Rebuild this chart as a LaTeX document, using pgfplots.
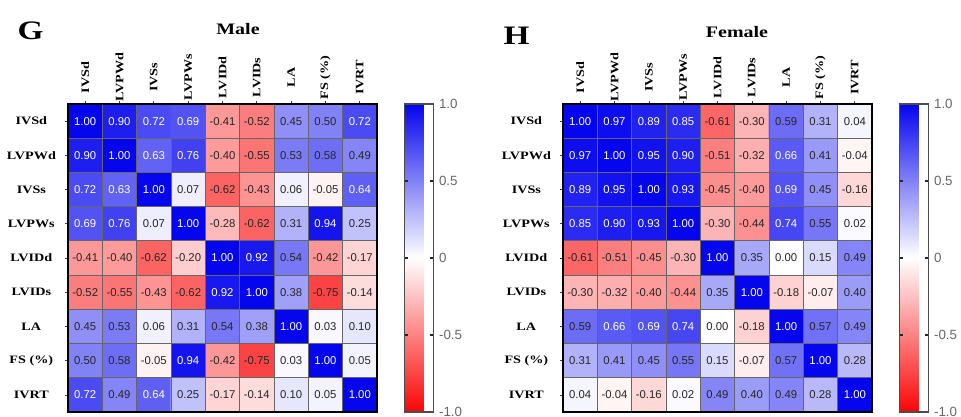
\documentclass[border=0pt]{standalone}
\usepackage{fontspec}
\setmainfont{Liberation Serif}
\setsansfont{Liberation Sans}
\usepackage{graphicx}
\usepackage{pgfplots}
\usepackage{pgfplotstable}
\pgfplotsset{compat=1.18}
\newcommand\sx[1]{\scalebox{1.25}[1]{#1}}

\pgfplotstableread{
x y v
0 0 1.00
1 0 0.90
2 0 0.72
3 0 0.69
4 0 -0.41
5 0 -0.52
6 0 0.45
7 0 0.50
8 0 0.72
0 1 0.90
1 1 1.00
2 1 0.63
3 1 0.76
4 1 -0.40
5 1 -0.55
6 1 0.53
7 1 0.58
8 1 0.49
0 2 0.72
1 2 0.63
2 2 1.00
3 2 0.07
4 2 -0.62
5 2 -0.43
6 2 0.06
7 2 -0.05
8 2 0.64
0 3 0.69
1 3 0.76
2 3 0.07
3 3 1.00
4 3 -0.28
5 3 -0.62
6 3 0.31
7 3 0.94
8 3 0.25
0 4 -0.41
1 4 -0.40
2 4 -0.62
3 4 -0.20
4 4 1.00
5 4 0.92
6 4 0.54
7 4 -0.42
8 4 -0.17
0 5 -0.52
1 5 -0.55
2 5 -0.43
3 5 -0.62
4 5 0.92
5 5 1.00
6 5 0.38
7 5 -0.75
8 5 -0.14
0 6 0.45
1 6 0.53
2 6 0.06
3 6 0.31
4 6 0.54
5 6 0.38
6 6 1.00
7 6 0.03
8 6 0.10
0 7 0.50
1 7 0.58
2 7 -0.05
3 7 0.94
4 7 -0.42
5 7 -0.75
6 7 0.03
7 7 1.00
8 7 0.05
0 8 0.72
1 8 0.49
2 8 0.64
3 8 0.25
4 8 -0.17
5 8 -0.14
6 8 0.10
7 8 0.05
8 8 1.00
}\male

\pgfplotstableread{
x y v
0 0 1.00
1 0 0.97
2 0 0.89
3 0 0.85
4 0 -0.61
5 0 -0.30
6 0 0.59
7 0 0.31
8 0 0.04
0 1 0.97
1 1 1.00
2 1 0.95
3 1 0.90
4 1 -0.51
5 1 -0.32
6 1 0.66
7 1 0.41
8 1 -0.04
0 2 0.89
1 2 0.95
2 2 1.00
3 2 0.93
4 2 -0.45
5 2 -0.40
6 2 0.69
7 2 0.45
8 2 -0.16
0 3 0.85
1 3 0.90
2 3 0.93
3 3 1.00
4 3 -0.30
5 3 -0.44
6 3 0.74
7 3 0.55
8 3 0.02
0 4 -0.61
1 4 -0.51
2 4 -0.45
3 4 -0.30
4 4 1.00
5 4 0.35
6 4 0.00
7 4 0.15
8 4 0.49
0 5 -0.30
1 5 -0.32
2 5 -0.40
3 5 -0.44
4 5 0.35
5 5 1.00
6 5 -0.18
7 5 -0.07
8 5 0.40
0 6 0.59
1 6 0.66
2 6 0.69
3 6 0.74
4 6 0.00
5 6 -0.18
6 6 1.00
7 6 0.57
8 6 0.49
0 7 0.31
1 7 0.41
2 7 0.45
3 7 0.55
4 7 0.15
5 7 -0.07
6 7 0.57
7 7 1.00
8 7 0.28
0 8 0.04
1 8 -0.04
2 8 -0.16
3 8 0.02
4 8 0.49
5 8 0.40
6 8 0.49
7 8 0.28
8 8 1.00
}\female

\pgfplotsset{
  corr/.style={
    scale only axis, width=231.75pt, height=231pt,
    xmin=-0.5, xmax=8.5, ymin=-0.5, ymax=8.5, y dir=reverse,
    colormap={rwb}{rgb255(0cm)=(250,5,5); rgb255(1cm)=(255,255,255); rgb255(2cm)=(5,5,238)},
    point meta min=-1, point meta max=1,
    xtick={0,...,8}, ytick={0,...,8},
    xticklabels={\sx{IVSd},\sx{LVPWd},\sx{IVSs},\sx{LVPWs},\sx{LVIDd},\sx{LVIDs},\sx{LA},\sx{FS (\%)},\sx{IVRT}},
    yticklabels={\sx{IVSd},\sx{LVPWd},\sx{IVSs},\sx{LVPWs},\sx{LVIDd},\sx{LVIDs},\sx{LA},\sx{FS (\%)},\sx{IVRT}},
    xtick pos=upper, xticklabel pos=upper, ytick pos=left,
    xticklabel style={font=\bfseries\fontsize{8.5}{9}\selectfont, yshift=18pt, rotate=90, anchor=center},
    yticklabel style={font=\bfseries\fontsize{8.5}{9}\selectfont, xshift=-25.5pt, anchor=center},
    tick align=outside, major tick length=2pt, tick style={black!75, line width=0.5pt},
    minor xtick={-0.5,0.5,...,8.5}, minor ytick={-0.5,0.5,...,8.5},
    xminorgrids=true, yminorgrids=true, minor tick length=0pt,
    minor grid style={black!60, line width=0.6pt},
    axis on top,
    axis line style={black, line width=1pt},
    colorbar,
    every node near coord/.append style={font=\sffamily\fontsize{8.5}{9}\selectfont, text=black!85, anchor=center, inner sep=0pt},
  },
  cbar/.style={
    colorbar style={
      at={(parent axis.north east)}, anchor=north west, xshift=#1, width=21.5pt,
      ytick={-1,-0.5,0,0.5,1}, yticklabels={-1.0,-0.5,0,0.5,1.0},
      ytick pos=both, yticklabel pos=right,
      yticklabel style={font=\sffamily\fontsize{10}{11}\selectfont, text=black!60, xshift=1pt},
      axis line style={black!70, line width=0.8pt},
      tick align=inside, major tick length=2.5pt, tick style={black!85, line width=0.8pt},
    },
  },
}

\begin{document}
\begin{tikzpicture}
\path[use as bounding box] (0,0) rectangle (720.75pt,-312.75pt);

\begin{axis}[corr, cbar=12pt, at={(51pt,-78pt)}, anchor=north west]
\addplot[matrix plot*, mesh/cols=9, point meta=explicit] table[x=x, y=y, meta=v] {\male};
\addplot[only marks, mark=none, point meta=explicit symbolic,
  visualization depends on={\thisrow{v} \as \val},
  nodes near coords={\ifdim\val pt>0.595pt\color{white}\fi\pgfplotspointmeta}]
  table[x=x, y=y, meta=v] {\male};
\end{axis}

\begin{axis}[corr, cbar=12pt, at={(422.25pt,-78pt)}, anchor=north west]
\addplot[matrix plot*, mesh/cols=9, point meta=explicit] table[x=x, y=y, meta=v] {\female};
\addplot[only marks, mark=none, point meta=explicit symbolic,
  visualization depends on={\thisrow{v} \as \val},
  nodes near coords={\ifdim\val pt>0.595pt\color{white}\fi\pgfplotspointmeta}]
  table[x=x, y=y, meta=v] {\female};
\end{axis}

\node[font=\bfseries\fontsize{20}{22}\selectfont] at (22.9pt,-23.25pt) {\sx{G}};
\node[font=\bfseries\fontsize{20}{22}\selectfont] at (387.4pt,-27pt) {\sx{H}};
\node[font=\bfseries\fontsize{12}{14}\selectfont] at (178.5pt,-22pt) {\sx{Male}};
\node[font=\bfseries\fontsize{12}{14}\selectfont] at (552.75pt,-24pt) {\sx{Female}};
\end{tikzpicture}
\end{document}
